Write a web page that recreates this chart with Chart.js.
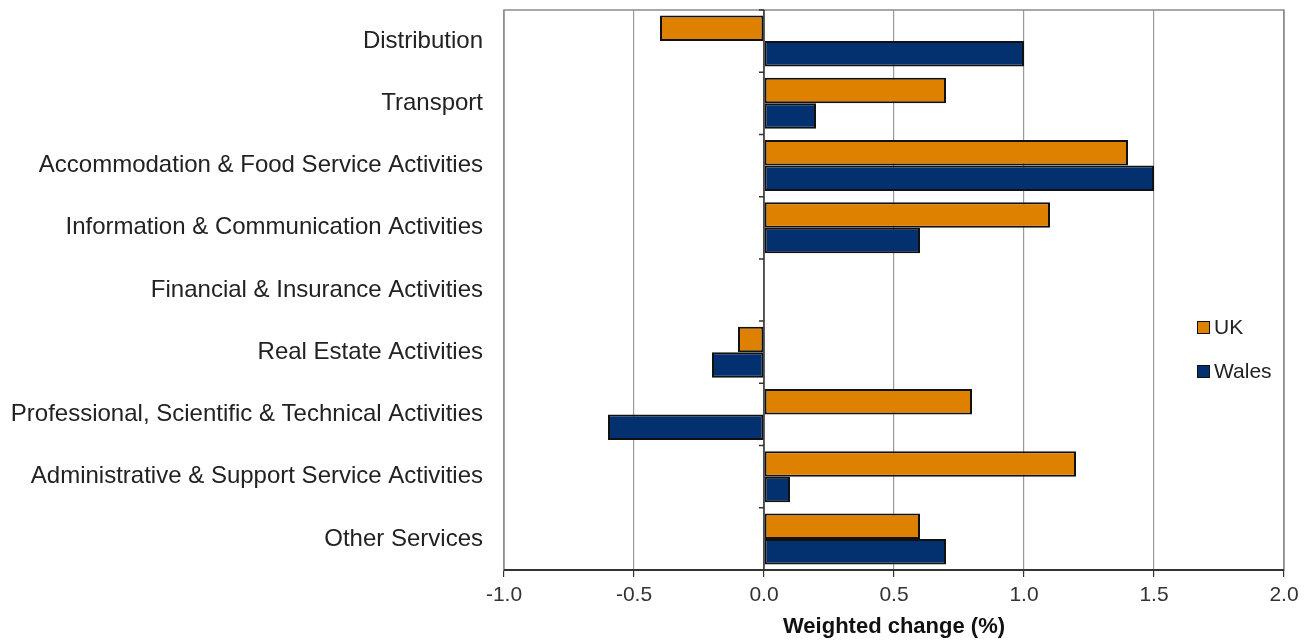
<!DOCTYPE html>
<html>
<head>
<meta charset="utf-8">
<script src="https://cdn.jsdelivr.net/npm/chart.js@4/dist/chart.umd.min.js"></script>
<style>
  html, body { margin: 0; padding: 0; background: #fff; }
  #wrap { position: relative; width: 1311px; height: 641px; }
  #legend { position: absolute; left: 1197px; top: 313px; font: 21px "Liberation Sans", Arial, sans-serif; color: #222; }
  .lg-item { display: flex; align-items: center; height: 28px; margin-bottom: 16px; }
  .lg-box { width: 11px; height: 11px; border: 1.5px solid #111; margin-right: 4px; }
</style>
</head>
<body>
<div id="wrap">
  <canvas id="chart" width="1311" height="641"></canvas>
  <div id="legend"></div>
</div>
<script>
// ---- Data ----
const categories = [
  'Distribution',
  'Transport',
  'Accommodation & Food Service Activities',
  'Information & Communication Activities',
  'Financial & Insurance Activities',
  'Real Estate Activities',
  'Professional, Scientific & Technical Activities',
  'Administrative & Support Service Activities',
  'Other Services',
];
const ukValues    = [-0.4, 0.7, 1.4, 1.1, 0, -0.1, 0.8, 1.2, 0.6];
const walesValues = [1.0, 0.2, 1.5, 0.6, 0, -0.2, -0.6, 0.1, 0.7];
const xTicks = [-1.0, -0.5, 0.0, 0.5, 1.0, 1.5, 2.0];

const UK_COLOR    = '#DE8100';
const WALES_COLOR = '#03306E';
const FONT = '"Liberation Sans", Arial, sans-serif';

// Frame round the plot area + small ticks on the zero line
const framePlugin = {
  id: 'frame',
  beforeDatasetsDraw(chart) {
    const { ctx, chartArea: a } = chart;
    ctx.save();
    ctx.strokeStyle = '#8a8a8a';
    ctx.lineWidth = 1.5;
    ctx.strokeRect(a.left, a.top, a.right - a.left, a.bottom - a.top);
    ctx.restore();
  },
  afterDatasetsDraw(chart) {
    const { ctx, chartArea: a, scales } = chart;
    const x0 = scales.x.getPixelForValue(0);
    ctx.save();
    ctx.strokeStyle = '#333';
    ctx.lineWidth = 1.5;
    ctx.beginPath();
    ctx.moveTo(x0, a.top);
    ctx.lineTo(x0, a.bottom);
    const step = (a.bottom - a.top) / categories.length;
    for (let i = 0; i <= categories.length; i++) {
      const y = a.top + i * step;
      ctx.moveTo(x0 - 5, y);
      ctx.lineTo(x0, y);
    }
    ctx.stroke();
    // bottom axis line
    ctx.lineWidth = 2;
    ctx.beginPath();
    ctx.moveTo(a.left, a.bottom);
    ctx.lineTo(a.right, a.bottom);
    ctx.stroke();
    ctx.restore();
  }
};

const chart = new Chart(document.getElementById('chart'), {
  type: 'bar',
  data: {
    labels: categories,
    datasets: [
      { label: 'UK', data: ukValues, backgroundColor: UK_COLOR, borderColor: '#111', borderWidth: 2, borderSkipped: false },
      { label: 'Wales', data: walesValues, backgroundColor: WALES_COLOR, borderColor: '#111', borderWidth: 2, borderSkipped: false },
    ],
  },
  options: {
    indexAxis: 'y',
    responsive: false,
    animation: false,
    devicePixelRatio: 1,
    layout: { padding: { top: 10, right: 27, left: 0, bottom: 0 } },
    datasets: { bar: { categoryPercentage: 0.82, barPercentage: 1.0 } },
    scales: {
      x: {
        min: -1, max: 2,
        afterBuildTicks(scale) { scale.ticks = xTicks.map(v => ({ value: v })); },
        afterFit(scale) { scale.height = 71; },
        border: { display: false },
        grid: { color: '#9a9a9a', lineWidth: 1.2, tickLength: 7, tickColor: '#333', drawTicks: true },
        ticks: {
          color: '#333',
          font: { family: FONT, size: 21 },
          padding: 6,
          callback: v => Number(v).toFixed(1),
        },
        title: {
          display: true,
          text: 'Weighted change (%)',
          color: '#111',
          font: { family: FONT, size: 22, weight: 'bold' },
          padding: { top: 4, bottom: 1 },
        },
      },
      y: {
        afterFit(scale) {
          scale.width = 504;
          scale.paddingTop = 0;
          scale.paddingBottom = 0;
        },
        border: { display: false },
        grid: { display: false, drawTicks: false },
        ticks: {
          color: '#222',
          font: { family: FONT, size: 24 },
          padding: 21,
        },
      },
    },
    plugins: {
      legend: { display: false },
      tooltip: { enabled: false },
    },
  },
  plugins: [framePlugin],
});

// HTML legend
const legend = document.getElementById('legend');
legend.innerHTML = chart.data.datasets.map(ds =>
  `<div class="lg-item"><span class="lg-box" style="background:${ds.backgroundColor}"></span>${ds.label}</div>`
).join('');
</script>
</body>
</html>
